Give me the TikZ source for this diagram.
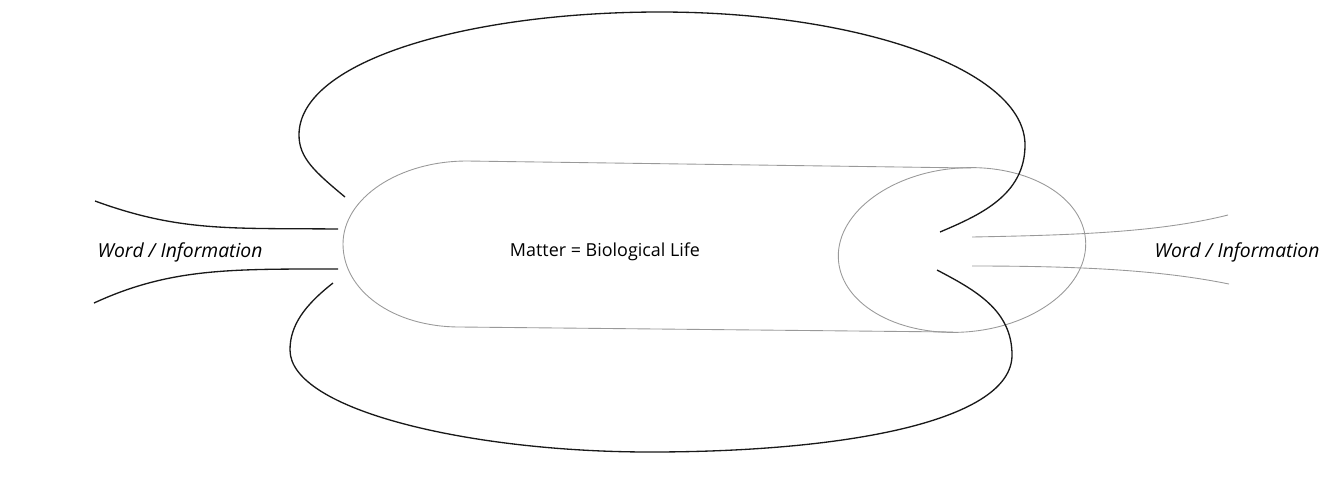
\documentclass[tikz,border=0pt]{standalone}
\usepackage{fontspec}
\setsansfont{Open Sans}
\usetikzlibrary{positioning}

\begin{document}
\begin{tikzpicture}[
    x=0.02cm, y=-0.02cm,
    font=\sffamily\fontsize{10.2}{12}\selectfont,
    loopline/.style={line width=0.75pt, black!90},
    tube/.style={line width=0.5pt, black!40},
    wordtext/.style={inner sep=0pt, font=\sffamily\itshape\fontsize{11}{13}\selectfont}
  ]
  \useasboundingbox (0,0) rectangle (1328,481);

  % texts
  \node[wordtext] (wordL) at (180,252) {Word / Information};
  \node[wordtext] (wordR) at (1237,252) {Word / Information};
  \node[inner sep=0pt] (matter) at (605,252) {Matter = Biological Life};

  % the tube
  \draw[tube] (971,168) -- (467,161)
    .. controls (399,161) and (343,198) .. (343,244)
    .. controls (343,290) and (392,327) .. (460,327) -- (953,332);
  \draw[tube, rotate around={5:(962,250)}] (962,250) ellipse [x radius=2.48cm, y radius=1.64cm];

  % grey lines leaving on the right
  \draw[tube] (972,237) .. controls (1080,235) and (1160,232) .. (1228,215);
  \draw[tube] (972,266) .. controls (1080,266) and (1160,270) .. (1229,284);

  % black lines coming in on the left
  \draw[loopline] (95,201) .. controls (180,232) and (230,228) .. (338,229);
  \draw[loopline] (94,303) .. controls (170,268) and (230,269) .. (338,269);

  % upper loop
  \draw[loopline] (345,197) .. controls (315,172) and (299,158) .. (299,135)
    .. controls (299,60) and (470,12) .. (660,12)
    .. controls (860,12) and (1025,70) .. (1025,145)
    .. controls (1025,195) and (980,215) .. (940,232);

  % lower loop
  \draw[loopline] (333,283) .. controls (305,305) and (290,325) .. (290,350)
    .. controls (290,410) and (470,452) .. (650,452)
    .. controls (850,452) and (1012,420) .. (1012,355)
    .. controls (1012,310) and (975,290) .. (937,270);
\end{tikzpicture}
\end{document}
